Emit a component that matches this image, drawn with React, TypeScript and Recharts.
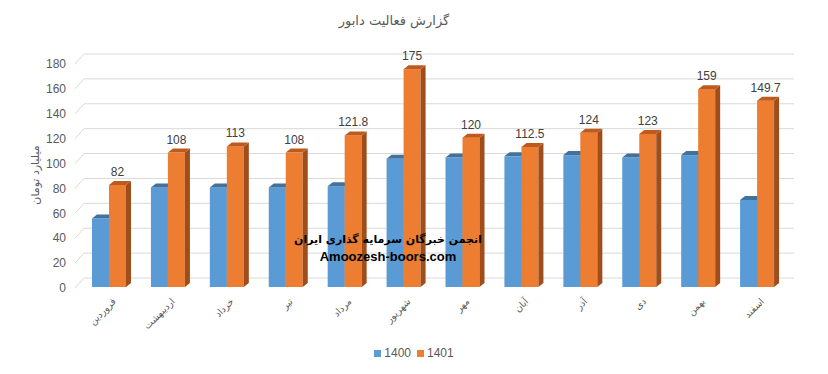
import React from 'react';
import { BarChart, Bar, XAxis, YAxis, CartesianGrid, LabelList } from 'recharts';

const months = ['فروردین', 'اردیبهشت', 'خرداد', 'تیر', 'مرداد', 'شهریور', 'مهر', 'آبان', 'آذر', 'دی', 'بهمن', 'اسفند'];
const values1400 = [55, 80, 80, 80, 81, 103, 104, 105, 106, 104, 106, 70];
const values1401 = [82, 108, 113, 108, 121.8, 175, 120, 112.5, 124, 123, 159, 149.7];
const yTicks = [0, 20, 40, 60, 80, 100, 120, 140, 160, 180];

const data = months.map((m, i) => ({ month: m, s1400: values1400[i], s1401: values1401[i] }));

const DX = 5;
const DY = 4;

const make3D = (front: string, top: string, side: string) => (props: any) => {
  const { x, y, width, height } = props;
  if (height == null || width == null) return null;
  return (
    <g>
      <rect x={x} y={y} width={width} height={height} fill={front} />
      <polygon
        points={`${x + width},${y} ${x + width + DX},${y - DY} ${x + width + DX},${y + height - DY} ${x + width},${y + height}`}
        fill={side}
      />
      <polygon
        points={`${x},${y} ${x + DX},${y - DY} ${x + width + DX},${y - DY} ${x + width},${y}`}
        fill={top}
      />
    </g>
  );
};

const blueShape = make3D('#5B9BD5', '#41719C', '#3F6E99');
const orangeShape = make3D('#ED7D31', '#C05A1C', '#9E4D1B');

const gridLine = (p: any) => {
  const { x1, y1, x2, key } = p;
  return (
    <path
      key={key}
      d={`M${x1 - 5},${y1 + 1} L${x1 + 4},${y1 - 9} L${x2 + 7},${y1 - 9}`}
      stroke="#D9D9D9"
      strokeWidth={1}
      fill="none"
    />
  );
};

const XTick = (props: any) => {
  const { x, y, payload } = props;
  const tx = x + 2;
  const ty = y + 2;
  return (
    <text
      x={tx}
      y={ty}
      transform={`rotate(-45, ${tx}, ${ty})`}
      textAnchor="end"
      dominantBaseline="hanging"
      fontSize={9.5}
      fontFamily="DejaVu Sans, sans-serif"
      fill="#595959"
    >
      {payload.value}
    </text>
  );
};

export default function App() {
  return (
    <div style={{ position: 'absolute', left: 0, top: 0, width: 828, height: 374, background: '#fff', fontFamily: 'Liberation Sans, Arial, sans-serif' }}>
      <BarChart
        width={828}
        height={374}
        data={data}
        margin={{ top: 63, right: 41, bottom: 0, left: 0 }}
        barGap={0}
        barSize={17}
      >
        <CartesianGrid vertical={false} horizontal={gridLine} />
        <XAxis
          dataKey="month"
          height={87}
          tickLine={false}
          axisLine={false}
          interval={0}
          tick={<XTick />}
        />
        <YAxis
          width={80}
          domain={[0, 180]}
          ticks={yTicks}
          tickLine={false}
          axisLine={false}
          tickSize={6}
          tickMargin={8}
          tick={{ fontSize: 12, fill: '#595959', fontFamily: 'Liberation Sans, Arial, sans-serif', dy: 1 }}
          label={{
            value: 'میلیارد تومان',
            angle: -90,
            position: 'insideLeft',
            dx: 30,
            dy: 0,
            style: { fontSize: 11, fill: '#595959', fontFamily: 'DejaVu Sans, sans-serif', textAnchor: 'middle' },
          }}
        />
        <Bar dataKey="s1400" name="1400" fill="#5B9BD5" shape={blueShape} isAnimationActive={false} />
        <Bar dataKey="s1401" name="1401" fill="#ED7D31" shape={orangeShape} isAnimationActive={false}>
          <LabelList
            dataKey="s1401"
            position="top"
            offset={9}
            style={{ fontSize: 12, fill: '#404040', fontFamily: 'Liberation Sans, Arial, sans-serif' }}
          />
        </Bar>
      </BarChart>
      <div style={{ position: 'absolute', left: 244, top: 13, width: 300, textAlign: 'center', fontSize: 13, color: '#595959', fontFamily: 'DejaVu Sans, sans-serif', direction: 'rtl' }}>
        گزارش فعالیت دابور
      </div>
      <div style={{ position: 'absolute', left: 238, top: 231, width: 300, textAlign: 'center', fontSize: 11, fontWeight: 'bold', color: '#000', fontFamily: 'DejaVu Sans, sans-serif', lineHeight: '18px', direction: 'rtl', whiteSpace: 'nowrap' }}>
        انجمن خبرگان سرمایه گذاری ایران
      </div>
      <div style={{ position: 'absolute', left: 238, top: 248, width: 300, textAlign: 'center', fontSize: 13, fontWeight: 'bold', color: '#000', fontFamily: 'Liberation Sans, Arial, sans-serif', lineHeight: '18px', whiteSpace: 'nowrap' }}>
        Amoozesh-boors.com
      </div>
      <div style={{ position: 'absolute', left: 0, top: 346, width: 828, display: 'flex', justifyContent: 'center', alignItems: 'center', fontSize: 12, color: '#595959', fontFamily: 'Liberation Sans, Arial, sans-serif' }}>
        <span style={{ display: 'inline-block', width: 7, height: 7, background: '#5B9BD5', marginRight: 3 }} />
        <span style={{ marginRight: 6 }}>1400</span>
        <span style={{ display: 'inline-block', width: 7, height: 7, background: '#ED7D31', marginRight: 3 }} />
        <span>1401</span>
      </div>
    </div>
  );
}
